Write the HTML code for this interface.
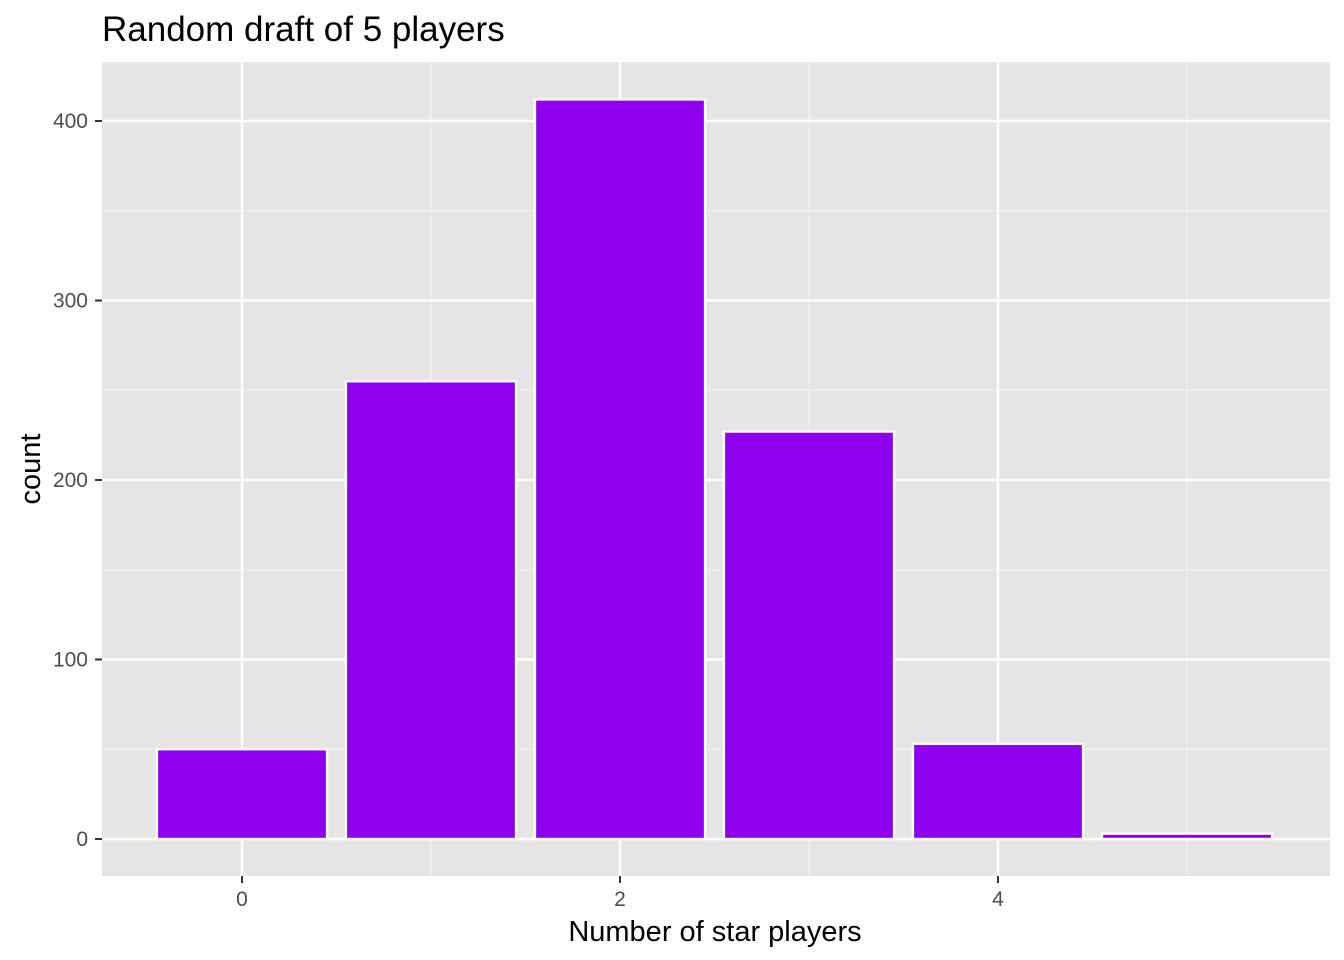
<!DOCTYPE html>
<html><head><meta charset="utf-8"><style>
body{margin:0;background:#fff;}
svg{display:block;font-family:"Liberation Sans",Arial,sans-serif;}
</style></head><body>
<svg id="chart" width="1344" height="960" viewBox="0 0 1344 960" xmlns="http://www.w3.org/2000/svg">
<text x="102" y="41" font-size="35" fill="#000">Random draft of 5 players</text>
<rect x="102" y="62" width="1228" height="814" fill="#e5e5e5"/>
<g id="grid"></g>
<g id="bars"></g>
<g id="axes"></g>
<text x="715" y="941" font-size="29" text-anchor="middle" fill="#000">Number of star players</text>
<text transform="translate(40,469) rotate(-90)" font-size="29" text-anchor="middle" fill="#000">count</text>
</svg>
<script>
const categories = [0, 1, 2, 3, 4, 5];
const counts = [50, 255, 412, 227, 53, 3];
const xTicks = [0, 2, 4];
const yTicks = [0, 100, 200, 300, 400];

const ns = 'http://www.w3.org/2000/svg';
const xScale = v => 242 + v * 189;
const yScale = v => 839 - v * 1.795;
function mk(tag, attrs, parent) {
  const e = document.createElementNS(ns, tag);
  for (const k in attrs) e.setAttribute(k, attrs[k]);
  parent.appendChild(e);
  return e;
}
const grid = document.getElementById('grid');
const bars = document.getElementById('bars');
const axes = document.getElementById('axes');
for (let v = 1; v <= 5; v += 2) {
  const l = mk('line', {x1: xScale(v), x2: xScale(v), y1: 62, y2: 876, stroke: '#f2f2f2', 'stroke-width': 1.2}, grid);
  
  
}
for (let v = 50; v <= 350; v += 100) {
  const l = mk('line', {x1: 102, x2: 1330, y1: yScale(v), y2: yScale(v), stroke: '#f2f2f2', 'stroke-width': 1.2}, grid);
  
  
}
xTicks.forEach(v => {
  const l = mk('line', {x1: xScale(v), x2: xScale(v), y1: 62, y2: 876, stroke: '#fff', 'stroke-width': 2.4}, grid);
  
  
  const t = mk('line', {x1: xScale(v), x2: xScale(v), y1: 876, y2: 883, stroke: '#333', 'stroke-width': 2}, axes);
  
  
  const tx = mk('text', {x: xScale(v), y: 906, 'font-size': 21, 'text-anchor': 'middle', fill: '#4d4d4d'}, axes);
  tx.textContent = v;
  
  
});
yTicks.forEach(v => {
  const l = mk('line', {x1: 102, x2: 1330, y1: yScale(v), y2: yScale(v), stroke: '#fff', 'stroke-width': 2.4}, grid);
  
  
  const t = mk('line', {x1: 95, x2: 102, y1: yScale(v), y2: yScale(v), stroke: '#333', 'stroke-width': 2}, axes);
  
  
  const tx = mk('text', {x: 88, y: yScale(v) + 7, 'font-size': 21, 'text-anchor': 'end', fill: '#4d4d4d'}, axes);
  tx.textContent = v;
  
  
});
categories.forEach((c, i) => {
  const x0 = xScale(c - 0.45), x1 = xScale(c + 0.45);
  const y = yScale(counts[i]);
  const r = mk('rect', {x: x0, y: y, width: x1 - x0, height: yScale(0) - y, fill: '#8E00EE', stroke: '#fff', 'stroke-width': 2.4}, bars);
  
  
});
</script>
</body></html>
